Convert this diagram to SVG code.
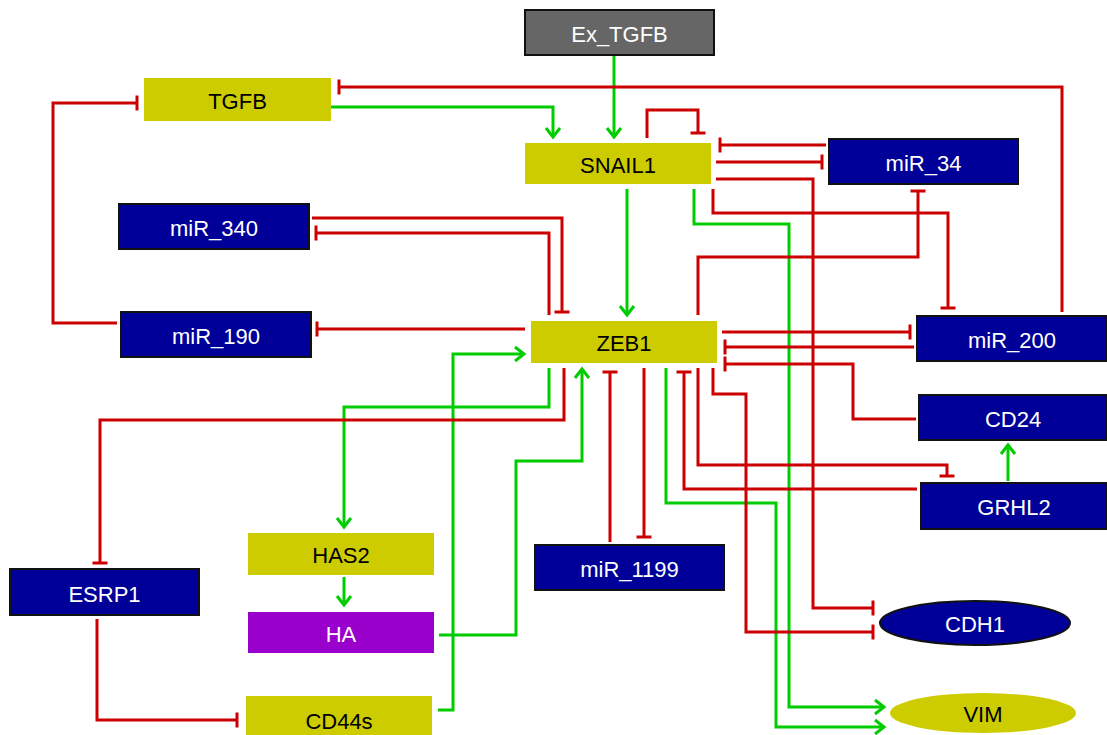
<svg xmlns="http://www.w3.org/2000/svg" width="1107" height="735" viewBox="0 0 1107 735">
<style>
.y{fill:#cccc00}
.b{fill:#000099;stroke:#111;stroke-width:2}
.g{fill:#666666;stroke:#111;stroke-width:2}
.p{fill:#9900cc}
.t{font-family:"Liberation Sans",Arial,sans-serif;font-size:22px;text-anchor:middle}
.tk{fill:#000}
.tw{fill:#fff}
.act{fill:none;stroke:#00cc00;stroke-width:3;marker-end:url(#arr)}
.inh{fill:none;stroke:#cc0000;stroke-width:3;marker-end:url(#bar)}
</style>
<defs>
<marker id="arr" markerUnits="userSpaceOnUse" viewBox="-14 -10 20 20" markerWidth="20" markerHeight="20" refX="0" refY="0" orient="auto" overflow="visible">
<path d="M-9,-7 L0,0 L-9,7" fill="none" stroke="#00cc00" stroke-width="3"/>
</marker>
<marker id="bar" markerUnits="userSpaceOnUse" viewBox="-10 -10 20 20" markerWidth="20" markerHeight="20" refX="0" refY="0" orient="auto" overflow="visible">
<path d="M0,-7.5 L0,7.5" fill="none" stroke="#cc0000" stroke-width="3"/>
</marker>
</defs>
<rect width="1107" height="735" fill="#fff"/>
<g id="connectors">
<path class="act" d="M614,55 V137"/>
<path class="act" d="M331,107 H553 V137"/>
<path class="act" d="M627,189 V315"/>
<path class="act" d="M694,189 V224 H789 V707 H884"/>
<path class="act" d="M666,368 V503 H776 V727 H884"/>
<path class="act" d="M549,368 V407 H344 V527"/>
<path class="act" d="M344,577 V605"/>
<path class="act" d="M439,635 H516 V461 H582 V369"/>
<path class="act" d="M438,710 H453 V354 H524"/>
<path class="act" d="M1008,481 V445"/>
<path class="inh" d="M1062,312 V87 H339"/>
<path class="inh" d="M647,138 V110 H698 V133"/>
<path class="inh" d="M826,145 H720"/>
<path class="inh" d="M716,162 H822"/>
<path class="inh" d="M716,179 H813 V608 H873"/>
<path class="inh" d="M713,189 V213 H948 V308"/>
<path class="inh" d="M312,218 H562 V312"/>
<path class="inh" d="M549,315 V233 H316"/>
<path class="inh" d="M525,329 H317"/>
<path class="inh" d="M117,323 H53 V103 H137"/>
<path class="inh" d="M698,315 V257 H918 V191"/>
<path class="inh" d="M722,332 H910"/>
<path class="inh" d="M914,347 H725"/>
<path class="inh" d="M916,419 H853 V364 H725"/>
<path class="inh" d="M564,368 V420 H100 V563"/>
<path class="inh" d="M97,619 V720 H237"/>
<path class="inh" d="M610,542 V372"/>
<path class="inh" d="M644,368 V537"/>
<path class="inh" d="M917,489 H684 V372"/>
<path class="inh" d="M698,368 V465 H947 V476"/>
<path class="inh" d="M713,368 V394 H746 V632 H873"/>
</g>
<g id="Ex_TGFB"><rect class="g" x="525" y="10" width="189" height="45"/><text class="t tw" x="619.5" y="42">Ex_TGFB</text></g>
<g id="TGFB"><rect class="y" x="144" y="78" width="187" height="43"/><text class="t tk" x="237.5" y="109">TGFB</text></g>
<g id="SNAIL1"><rect class="y" x="525" y="143" width="186" height="41"/><text class="t tk" x="618" y="173">SNAIL1</text></g>
<g id="miR_34"><rect class="b" x="829" y="139" width="189" height="45"/><text class="t tw" x="923.5" y="171">miR_34</text></g>
<g id="miR_340"><rect class="b" x="119" y="204" width="190" height="45"/><text class="t tw" x="214" y="236">miR_340</text></g>
<g id="miR_190"><rect class="b" x="121" y="312" width="190" height="45"/><text class="t tw" x="216" y="344">miR_190</text></g>
<g id="ZEB1"><rect class="y" x="531" y="321" width="186" height="42"/><text class="t tk" x="624" y="351">ZEB1</text></g>
<g id="miR_200"><rect class="b" x="917" y="316" width="190" height="45"/><text class="t tw" x="1012" y="348">miR_200</text></g>
<g id="CD24"><rect class="b" x="919" y="395" width="188" height="45"/><text class="t tw" x="1013" y="427">CD24</text></g>
<g id="GRHL2"><rect class="b" x="921" y="483" width="186" height="46"/><text class="t tw" x="1014" y="515">GRHL2</text></g>
<g id="miR_1199"><rect class="b" x="535" y="545" width="189" height="45"/><text class="t tw" x="629.5" y="577">miR_1199</text></g>
<g id="ESRP1"><rect class="b" x="10" y="569" width="189" height="46"/><text class="t tw" x="104.5" y="602">ESRP1</text></g>
<g id="HAS2"><rect class="y" x="248" y="533" width="186" height="42"/><text class="t tk" x="341" y="563">HAS2</text></g>
<g id="HA"><rect class="p" x="248" y="612" width="186" height="41"/><text class="t tw" x="341" y="642">HA</text></g>
<g id="CD44s"><rect class="y" x="246" y="696" width="186" height="44"/><text class="t tk" x="339" y="729">CD44s</text></g>
<g id="CDH1"><ellipse cx="975" cy="623" rx="95" ry="22" fill="#000099" stroke="#111" stroke-width="2"/><text class="t tw" x="975" y="632">CDH1</text></g>
<g id="VIM"><ellipse cx="983" cy="713" rx="93" ry="20" fill="#cccc00"/><text class="t tk" x="983" y="722">VIM</text></g>
</svg>
